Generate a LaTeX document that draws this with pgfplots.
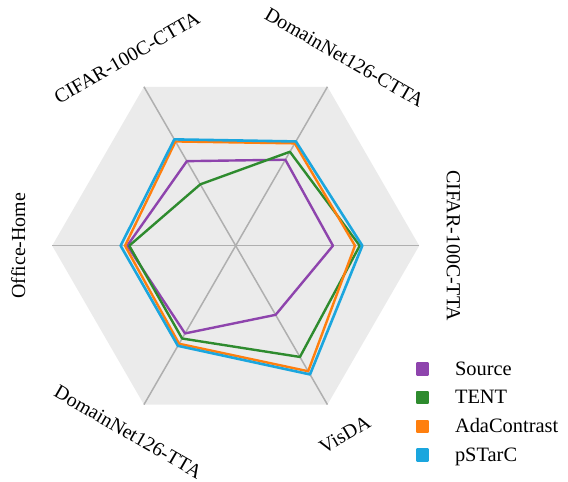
\documentclass[border=0pt]{standalone}
\usepackage{pgfplots}
\pgfplotsset{compat=1.18}
\usepgfplotslibrary{polar}
\usepackage{fontspec}
\setmainfont{Liberation Serif}
\definecolor{csource}{RGB}{142,68,173}
\definecolor{ctent}{RGB}{46,139,46}
\definecolor{cada}{RGB}{255,127,14}
\definecolor{cpst}{RGB}{27,166,222}
\definecolor{bggray}{RGB}{235,235,235}
\definecolor{spoke}{RGB}{175,175,175}
\begin{document}
\begin{tikzpicture}[x=1bp,y=1bp,font=\fontsize{20}{24}\selectfont]
\path[use as bounding box] (-235.7,-236.3) rectangle (332.3,245.7);
\begin{polaraxis}[
  at={(0,0)}, anchor=center,
  scale only axis, width=367bp, height=367bp,
  xmin=0, xmax=360, ymin=0, ymax=1,
  hide axis, xtick=\empty, ytick=\empty,
  clip=false,
  legend cell align=left,
  legend style={draw=none, fill=none, at={(0.99,0.19)}, anchor=north west,
    font=\fontsize{20.5}{24}\selectfont, row sep=9.5bp, inner sep=0pt},
  legend image code/.code={\fill[#1] (0bp,-5.5bp) rectangle (11bp,5.5bp); \path[draw=none,fill=none] (0bp,0bp) -- (36bp,0bp);},
]
% background hexagon
\addplot[forget plot, draw=none, fill=bggray] coordinates {(0,1) (60,1) (120,1) (180,1) (240,1) (300,1) (0,1)};
% spokes
\addplot[forget plot, spoke, line width=1.5bp] coordinates {(0,1) (180,1)};
\addplot[forget plot, spoke, line width=1.5bp] coordinates {(60,1) (240,1)};
\addplot[forget plot, spoke, line width=1.5bp] coordinates {(120,1) (300,1)};
% data: 0 CIFAR-100C-TTA, 60 DomainNet126-CTTA, 120 CIFAR-100C-CTTA, 180 Office-Home, 240 DomainNet126-TTA, 300 VisDA
\addplot[csource, line width=2.4bp, line join=round, line cap=round] coordinates {(0,0.530) (60,0.541) (120,0.532) (180,0.591) (240,0.552) (300,0.435) (0,0.530)};
\addlegendentry{Source}
\addplot[ctent, line width=2.4bp, line join=round, line cap=round] coordinates {(0,0.676) (60,0.591) (120,0.386) (180,0.580) (240,0.584) (300,0.700) (0,0.676)};
\addlegendentry{TENT}
\addplot[cada, line width=2.4bp, line join=round, line cap=round] coordinates {(0,0.650) (60,0.644) (120,0.656) (180,0.603) (240,0.617) (300,0.790) (0,0.650)};
\addlegendentry{AdaContrast}
\addplot[cpst, line width=2.6bp, line join=round, line cap=round] coordinates {(0,0.690) (60,0.656) (120,0.669) (180,0.627) (240,0.630) (300,0.810) (0,0.690)};
\addlegendentry{pSTarC}
% axis labels
\node[rotate=-90] at (axis cs:0,1.187) {CIFAR-100C-TTA};
\node[rotate=-30] at (axis cs:60,1.185) {DomainNet126-CTTA};
\node[rotate=30] at (axis cs:120,1.185) {CIFAR-100C-CTTA};
\node[rotate=90] at (axis cs:180,1.185) {Office-Home};
\node[rotate=-30] at (axis cs:240,1.172) {DomainNet126-TTA};
\node[rotate=30] at (axis cs:300,1.19) {VisDA};
\end{polaraxis}
\end{tikzpicture}
\end{document}
